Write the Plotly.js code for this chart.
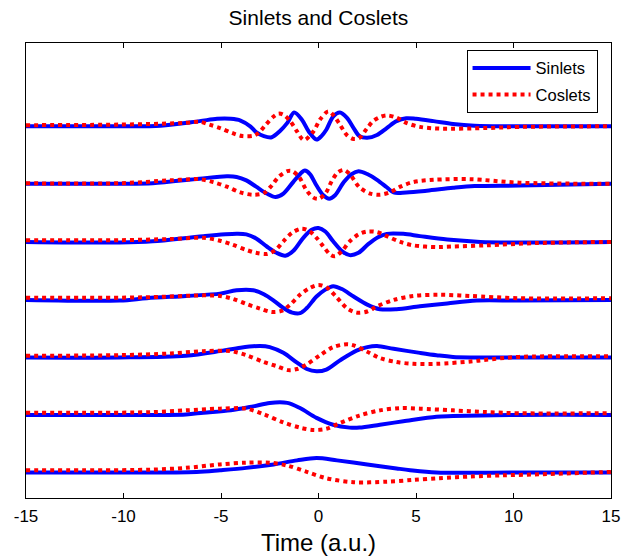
<!DOCTYPE html>
<html>
<head>
<meta charset="utf-8">
<script src="https://cdn.plot.ly/plotly-3.0.1.min.js"></script>
<style>html,body{margin:0;padding:0;background:#fff;}#chart{width:621px;height:559px;}</style>
</head>
<body>
<div id="chart"></div>
<script>
// Values: displacement from each row's baseline, in percent of the row spacing.
// Row 1 (top)
const sin1T = [-15, -10.2, -8.1, -6.1, -5.2, -4.5, -4.0, -3.5, -3.2, -2.8, -2.4, -2.0, -1.6, -1.25, -0.86, -0.5, -0.1, 0.15, 0.4, 0.75, 1.1, 1.45, 1.8, 2.1, 2.5, 3.0, 3.5, 4.0, 4.5, 5.0, 5.9, 6.9, 8.0, 10.3, 15];
const sin1V = [0, 0, 1, 9, 13, 13, 10, 0, -10, -17, -19, -9, 6, 24, 12, -9, -23, -17, -6, 17, 24, 15, -3, -17, -20, -15, -3, 9, 14, 13, 9, 4, 1, 0, 0];
const cos1T = [-15, -10.2, -6.8, -6.1, -5.6, -5.05, -4.4, -3.9, -3.3, -3.0, -2.7, -2.3, -2.05, -1.8, -1.45, -1.1, -0.75, -0.26, 0.08, 0.5, 0.75, 1.1, 1.45, 1.8, 2.1, 2.5, 2.8, 3.15, 3.5, 4.0, 4.5, 5.2, 6.2, 8.6, 10.3, 15];
const cos1V = [2, 3, 6, 8, 3, -3, -12, -17, -16, -9, 3, 17, 22, 20, 9, -9, -24, -9, 12, 26, 20, 3, -15, -22, -20, -3, 9, 16, 19, 15, 6, -1, -4, -3, -1, 0];
// Row 2
const sin2T = [-15, -10.2, -8.5, -6.1, -4.7, -4.2, -3.7, -3.2, -2.65, -2.2, -1.8, -1.3, -0.86, -0.7, -0.44, -0.1, 0.25, 0.55, 0.85, 1.3, 1.7, 2.05, 2.5, 3.0, 3.5, 3.85, 4.5, 5.55, 6.9, 8.0, 10.3, 15];
const sin2V = [0, 0, 1, 9, 13, 12, 6, -5, -17, -23, -17, 3, 20, 23, 17, -3, -20, -26, -20, 3, 17, 22, 17, 7, -6, -15, -15, -12, -7, -4, -3, 0];
const cos2T = [-15, -10.2, -7.6, -6.1, -5.4, -4.7, -4.0, -3.35, -2.8, -2.4, -2.05, -1.6, -1.35, -1.0, -0.6, -0.26, 0, 0.35, 0.7, 1.0, 1.3, 1.6, 2.1, 2.65, 3.15, 3.65, 4.2, 4.85, 5.9, 7.8, 10.3, 15];
const cos2V = [1, 1, 6, 8, 3, -5, -15, -19, -16, -3, 12, 22, 22, 12, -12, -24, -26, -17, 6, 20, 24, 17, -6, -17, -19, -15, -5, 3, 7, 8, 2, 0];
// Row 3
const sin3T = [-15, -10.2, -8.5, -5.9, -4.2, -3.7, -3.2, -2.65, -2.15, -1.7, -1.3, -0.78, -0.35, 0, 0.35, 0.75, 1.2, 1.6, 2.05, 2.55, 3.05, 3.5, 4.35, 5.2, 6.6, 8.3, 10.3, 15];
const sin3V = [-1, -2, 0, 9, 13, 12, 5, -9, -20, -25, -17, 6, 20, 23, 17, 0, -17, -24, -20, -5, 7, 13, 13, 9, 3, -1, -2, -1];
const cos3T = [-15, -10.2, -7.6, -5.9, -5.05, -4.4, -3.7, -3.2, -2.65, -2.2, -1.8, -1.35, -0.86, -0.44, -0.1, 0.25, 0.6, 0.85, 1.2, 1.6, 2.05, 2.5, 3.0, 3.5, 4.2, 4.85, 6.05, 6.9, 8.6, 11.2, 15];
const cos3V = [2, 2, 4, 6, 1, -6, -15, -20, -22, -15, 0, 15, 22, 17, 6, -9, -23, -26, -17, 0, 12, 17, 16, 9, -1, -7, -10, -9, -7, -3, -1];
// Row 4
const sin4T = [-15, -10.2, -8.8, -6.8, -5.05, -4.2, -3.35, -2.8, -2.3, -1.8, -1.35, -0.95, -0.6, -0.1, 0.35, 0.75, 1.2, 1.8, 2.5, 3.15, 4.0, 5.2, 6.6, 8.1, 10.3, 15];
const sin4V = [-2, -3, 1, 5, 9, 15, 15, 8, -3, -16, -24, -25, -16, 4, 16, 22, 17, 4, -10, -18, -18, -13, -8, -3, -3, -2];
const cos4T = [-15, -10.2, -8.5, -5.9, -5.05, -4.4, -3.7, -3.0, -2.4, -1.9, -1.45, -0.95, -0.44, 0, 0.4, 0.9, 1.45, 1.95, 2.5, 3.0, 3.85, 4.85, 6.2, 7.8, 10.3, 15];
const cos4V = [2, 2, 3, 6, 5, 0, -9, -17, -23, -21, -10, 7, 19, 24, 20, 4, -16, -24, -22, -13, -2, 5, 7, 5, 1, 1];
// Row 5
const sin5T = [-15, -10.2, -6.8, -5.05, -4.0, -3.0, -2.5, -1.8, -1.1, -0.6, -0.1, 0.4, 1.1, 1.95, 2.5, 3.0, 3.85, 5.2, 6.05, 6.9, 10.3, 15];
const sin5V = [-2, -2, 1, 9, 15, 18, 16, 6, -11, -22, -26, -23, -7, 10, 16, 18, 13, 6, 2, -1, -2, -2];
const cos5T = [-15, -10.2, -7.6, -5.9, -4.5, -3.7, -2.8, -2.15, -1.55, -1.1, -0.6, 0.08, 0.75, 1.45, 1.8, 2.5, 3.15, 4.0, 4.85, 6.05, 7.8, 8.6, 10.3, 15];
const cos5V = [1, 2, 5, 9, 9, 2, -10, -17, -24, -22, -14, 2, 16, 21, 19, 8, -3, -10, -13, -13, -9, -6, -1, 0];
// Row 6
const sin6T = [-15, -10.2, -6.8, -5.9, -4.5, -3.35, -2.5, -1.6, -0.95, -0.1, 0.75, 1.6, 2.1, 3.15, 4.35, 6.05, 6.9, 10.3, 15];
const sin6V = [-2, -2, -1, 2, 6, 13, 19, 19, 10, -7, -19, -24, -24, -19, -13, -5, -4, -2, -2];
const cos6T = [-15, -10.2, -8.5, -6.8, -5.05, -3.7, -2.8, -1.8, -0.95, -0.26, 0.4, 1.1, 2.1, 3.15, 4.2, 5.2, 6.9, 8.6, 10.3, 15];
const cos6V = [2, 2, 3, 6, 9, 9, -1, -15, -24, -28, -26, -16, -3, 6, 10, 9, 6, 3, 1, 1];
// Row 7 (bottom)
const sin7T = [-15, -10.2, -6.25, -5.05, -3.7, -2.3, -1.1, -0.1, 0.95, 2.5, 4.0, 4.7, 6.05, 10.3, 15];
const sin7V = [-2, -2, -1, 2, 6, 12, 19, 23, 19, 12, 5, 2, -2, -2, -2];
const cos7T = [-15, -10.2, -8.5, -6.8, -5.05, -3.7, -2.5, -1.6, -0.6, 0.4, 1.8, 3.5, 4.85, 6.2, 7.8, 9.5, 11.5, 15];
const cos7V = [2, 2, 3, 6, 12, 15, 15, 10, -1, -12, -19, -18, -15, -12, -9, -7, -5, -1];

const rowOffsets = [7, 6, 5, 4, 3, 2, 1];
const xTicks = [-15, -10, -5, 0, 5, 10, 15];
const seriesNames = ['Sinlets', 'Coslets'];

const sinRows = [[sin1T, sin1V], [sin2T, sin2V], [sin3T, sin3V], [sin4T, sin4V], [sin5T, sin5V], [sin6T, sin6V], [sin7T, sin7V]];
const cosRows = [[cos1T, cos1V], [cos2T, cos2V], [cos3T, cos3V], [cos4T, cos4V], [cos5T, cos5V], [cos6T, cos6V], [cos7T, cos7V]];

const traces = [];
sinRows.forEach((r, i) => {
  traces.push({
    x: r[0], y: r[1].map(v => rowOffsets[i] + v / 100),
    type: 'scatter', mode: 'lines', name: seriesNames[0],
    legendgroup: 's', showlegend: i === 0, legendrank: 1,
    line: {color: '#0000ff', width: 4, shape: 'spline', smoothing: 0.9},
    hoverinfo: 'skip'
  });
});
cosRows.forEach((r, i) => {
  traces.push({
    x: r[0], y: r[1].map(v => rowOffsets[i] + v / 100),
    type: 'scatter', mode: 'lines', name: seriesNames[1],
    legendgroup: 'c', showlegend: i === 0, legendrank: 2,
    line: {color: '#ff0000', width: 4, dash: '4px,4px', shape: 'spline', smoothing: 0.9},
    hoverinfo: 'skip'
  });
});

const font = 'Liberation Sans, Arial, sans-serif';
const layout = {
  width: 621, height: 559,
  margin: {l: 26, r: 10, t: 43, b: 61, pad: 0},
  paper_bgcolor: '#ffffff', plot_bgcolor: '#ffffff',
  font: {family: font, color: '#000000', size: 16},
  title: {text: 'Sinlets and Coslets', font: {family: font, size: 21, color: '#000'},
          x: 0.5, xref: 'paper', y: 1 - 18 / 559, yref: 'container', yanchor: 'middle'},
  xaxis: {
    range: [-15, 15], tickvals: xTicks, ticktext: xTicks.map(String),
    ticks: 'inside', ticklen: 5, tickwidth: 1, tickcolor: '#000',
    showline: true, linecolor: '#000', linewidth: 1, mirror: 'ticks',
    showgrid: false, zeroline: false, ticklabelstandoff: 3,
    tickfont: {family: font, size: 17, color: '#000'},
    title: {text: 'Time (a.u.)', font: {family: font, size: 24, color: '#000'}, standoff: 8}
  },
  yaxis: {
    range: [0.536, 8.449], showticklabels: false, ticks: '',
    showline: true, linecolor: '#000', linewidth: 1, mirror: true,
    showgrid: false, zeroline: false
  },
  showlegend: true,
  legend: {
    x: 0.977, xanchor: 'right', y: 0.985, yanchor: 'top',
    bgcolor: '#ffffff', bordercolor: '#000', borderwidth: 1,
    font: {family: font, size: 16.5, color: '#000'},
    traceorder: 'grouped', tracegroupgap: 2, itemwidth: 58
  }
};

Plotly.newPlot('chart', traces, layout, {displayModeBar: false, staticPlot: true});
</script>
</body>
</html>
